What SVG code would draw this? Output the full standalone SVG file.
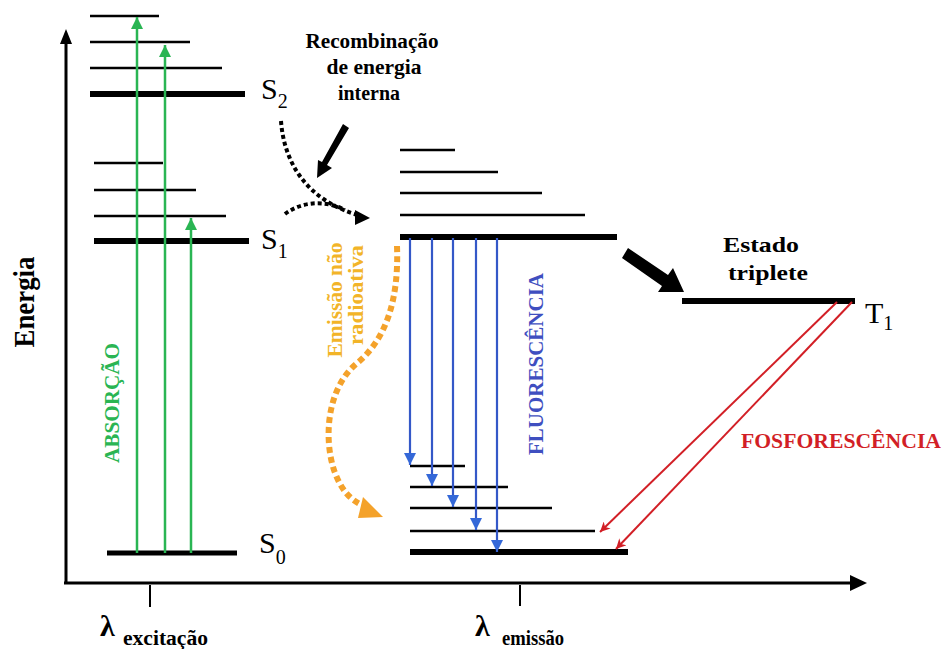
<svg xmlns="http://www.w3.org/2000/svg" width="944" height="649" viewBox="0 0 944 649">
<style>
.lvl{stroke:#000;stroke-width:2.5;fill:none}
.thick{stroke:#000;stroke-width:6;fill:none}
.axis{stroke:#000;stroke-width:3;fill:none}
.g{stroke:#2ab553;stroke-width:2.5;fill:none}
.b{stroke:#3458c8;stroke-width:2.2;fill:none}
.r{stroke:#d21f26;stroke-width:2;fill:none}
.dotk{stroke:#000;stroke-width:4;fill:none;stroke-dasharray:4 3}
.doto{stroke:#f4a22b;stroke-width:6;fill:none;stroke-dasharray:6 4}
.t{font-family:"Liberation Serif","DejaVu Serif",serif;font-weight:700}
.lab{font-family:"Liberation Serif","DejaVu Serif",serif}
</style>
<defs>
<marker id="hg" viewBox="0 0 10 10" refX="10" refY="5" markerUnits="userSpaceOnUse" markerWidth="13" markerHeight="12" orient="auto"><path d="M0,0L10,5L0,10z" fill="#2ab553"/></marker>
<marker id="hb" viewBox="0 0 10 10" refX="10" refY="5" markerUnits="userSpaceOnUse" markerWidth="13" markerHeight="12" orient="auto"><path d="M0,0L10,5L0,10z" fill="#3468d8"/></marker>
<marker id="hr" viewBox="0 0 10 10" refX="10" refY="5" markerUnits="userSpaceOnUse" markerWidth="14" markerHeight="10" orient="auto"><path d="M0,0L10,5L0,10L3,5z" fill="#d21f26"/></marker>
</defs>
<rect width="944" height="649" fill="#fff"/>

<g id="axes">
<line class="axis" x1="66" y1="583" x2="66" y2="40"/>
<polygon points="66,29 60,44 72,44" fill="#000"/>
<line class="axis" x1="64" y1="583" x2="853" y2="583"/>
<polygon points="867,583 850,575 850,591" fill="#000"/>
<line class="axis" x1="150" y1="585" x2="150" y2="607" style="stroke-width:2"/>
<line class="axis" x1="520" y1="585" x2="520" y2="606" style="stroke-width:2"/>
<text class="t" transform="translate(34,302) rotate(-90)" font-size="30" text-anchor="middle" textLength="91" lengthAdjust="spacingAndGlyphs">Energia</text>
<text class="t" x="100" y="636" font-size="30">λ</text>
<text class="t" x="123" y="645" font-size="20" textLength="85" lengthAdjust="spacingAndGlyphs">excitação</text>
<text class="t" x="475" y="636" font-size="30">λ</text>
<text class="t" x="502" y="645" font-size="20" textLength="62" lengthAdjust="spacingAndGlyphs">emissão</text>
</g>

<g id="S2">
<line class="lvl" x1="90" y1="16" x2="159" y2="16"/>
<line class="lvl" x1="90" y1="42" x2="190" y2="42"/>
<line class="lvl" x1="90" y1="68" x2="222" y2="68"/>
<line class="thick" x1="90" y1="94" x2="245" y2="94"/>
<text class="lab" x="261" y="99" font-size="30">S<tspan font-size="20" dy="9">2</tspan></text>
</g>

<g id="S1">
<line class="lvl" x1="94" y1="163" x2="163" y2="163"/>
<line class="lvl" x1="94" y1="190" x2="196" y2="190"/>
<line class="lvl" x1="94" y1="216" x2="226" y2="216"/>
<line class="thick" x1="94" y1="241" x2="249" y2="241"/>
<text class="lab" x="261" y="249" font-size="30">S<tspan font-size="20" dy="9">1</tspan></text>
</g>

<g id="S0">
<line class="thick" x1="107" y1="553" x2="237" y2="553" style="stroke-width:5"/>
<text class="lab" x="259" y="553" font-size="30">S<tspan font-size="20" dy="11">0</tspan></text>
</g>

<g id="S1prime">
<line class="lvl" x1="400" y1="150" x2="455" y2="150"/>
<line class="lvl" x1="400" y1="172" x2="498" y2="172"/>
<line class="lvl" x1="400" y1="193" x2="542" y2="193"/>
<line class="lvl" x1="400" y1="215" x2="585" y2="215"/>
<line class="thick" x1="400" y1="237" x2="617" y2="237"/>
</g>

<g id="S0prime">
<line class="lvl" x1="410" y1="466" x2="465" y2="466"/>
<line class="lvl" x1="410" y1="487" x2="508" y2="487"/>
<line class="lvl" x1="410" y1="508" x2="552" y2="508"/>
<line class="lvl" x1="410" y1="531" x2="595" y2="531"/>
<line class="thick" x1="410" y1="552" x2="628" y2="552"/>
</g>

<g id="T1">
<line class="thick" x1="682" y1="301" x2="855" y2="301"/>
<text class="lab" x="865" y="323" font-size="30">T<tspan font-size="20" dy="7">1</tspan></text>
<text class="t" x="761" y="252" font-size="22" text-anchor="middle" textLength="76" lengthAdjust="spacingAndGlyphs">Estado</text>
<text class="t" x="768" y="280" font-size="22" text-anchor="middle" textLength="80" lengthAdjust="spacingAndGlyphs">triplete</text>
</g>

<g id="labels">
<text class="t" x="372" y="48" font-size="20" text-anchor="middle" textLength="133" lengthAdjust="spacingAndGlyphs">Recombinação</text>
<text class="t" x="374" y="74" font-size="20" text-anchor="middle" textLength="95" lengthAdjust="spacingAndGlyphs">de energia</text>
<text class="t" x="369" y="100" font-size="20" text-anchor="middle" textLength="62" lengthAdjust="spacingAndGlyphs">interna</text>
<text class="t" transform="translate(119,403) rotate(-90)" font-size="20" fill="#2ab553" text-anchor="middle" textLength="120" lengthAdjust="spacingAndGlyphs">ABSORÇÃO</text>
<text class="t" transform="translate(342,300) rotate(-90)" font-size="20" fill="#f2b428" text-anchor="middle" textLength="115" lengthAdjust="spacingAndGlyphs">Emissão não</text>
<text class="t" transform="translate(363,295) rotate(-90)" font-size="20" fill="#f2b428" text-anchor="middle" textLength="100" lengthAdjust="spacingAndGlyphs">radioativa</text>
<text class="t" transform="translate(543,364) rotate(-90)" font-size="20" fill="#3f4fc0" text-anchor="middle" textLength="182" lengthAdjust="spacingAndGlyphs">FLUORESCÊNCIA</text>
<text class="t" x="741" y="448" font-size="20" fill="#d21f26" textLength="200" lengthAdjust="spacingAndGlyphs">FOSFORESCÊNCIA</text>
</g>

<g id="connectors">
<line class="g" x1="137" y1="553" x2="137" y2="17" marker-end="url(#hg)"/>
<line class="g" x1="165" y1="553" x2="165" y2="45" marker-end="url(#hg)"/>
<line class="g" x1="191" y1="553" x2="191" y2="218" marker-end="url(#hg)"/>
<line class="b" x1="410" y1="238" x2="410" y2="465" marker-end="url(#hb)"/>
<line class="b" x1="432" y1="238" x2="432" y2="486" marker-end="url(#hb)"/>
<line class="b" x1="453" y1="238" x2="453" y2="507" marker-end="url(#hb)"/>
<line class="b" x1="476" y1="238" x2="476" y2="530" marker-end="url(#hb)"/>
<line class="b" x1="497" y1="238" x2="497" y2="552" marker-end="url(#hb)"/>
<line class="r" x1="837" y1="302" x2="600" y2="532" marker-end="url(#hr)"/>
<line class="r" x1="852" y1="302" x2="616" y2="549" marker-end="url(#hr)"/>
<path class="dotk" d="M281,121 C284,162 306,200 358,215"/>
<path class="dotk" d="M285,214 C302,201 326,200 345,210"/>
<polygon points="355,210 370,218 355,225" fill="#000"/>
<polygon points="343,124 322,162 318,160 317,178 332,168 327,165 349,128" fill="#000"/>
<path class="doto" d="M397,246 C399,300 386,340 356,364 C326,390 324,440 334,470 C341,490 350,500 364,506"/>
<polygon points="363,497 383,517 358,518" fill="#f4a22b"/>
<polygon points="628,248 668,275 673,268 684,292 658,292 662,286 622,258" fill="#000"/>
</g>
</svg>
